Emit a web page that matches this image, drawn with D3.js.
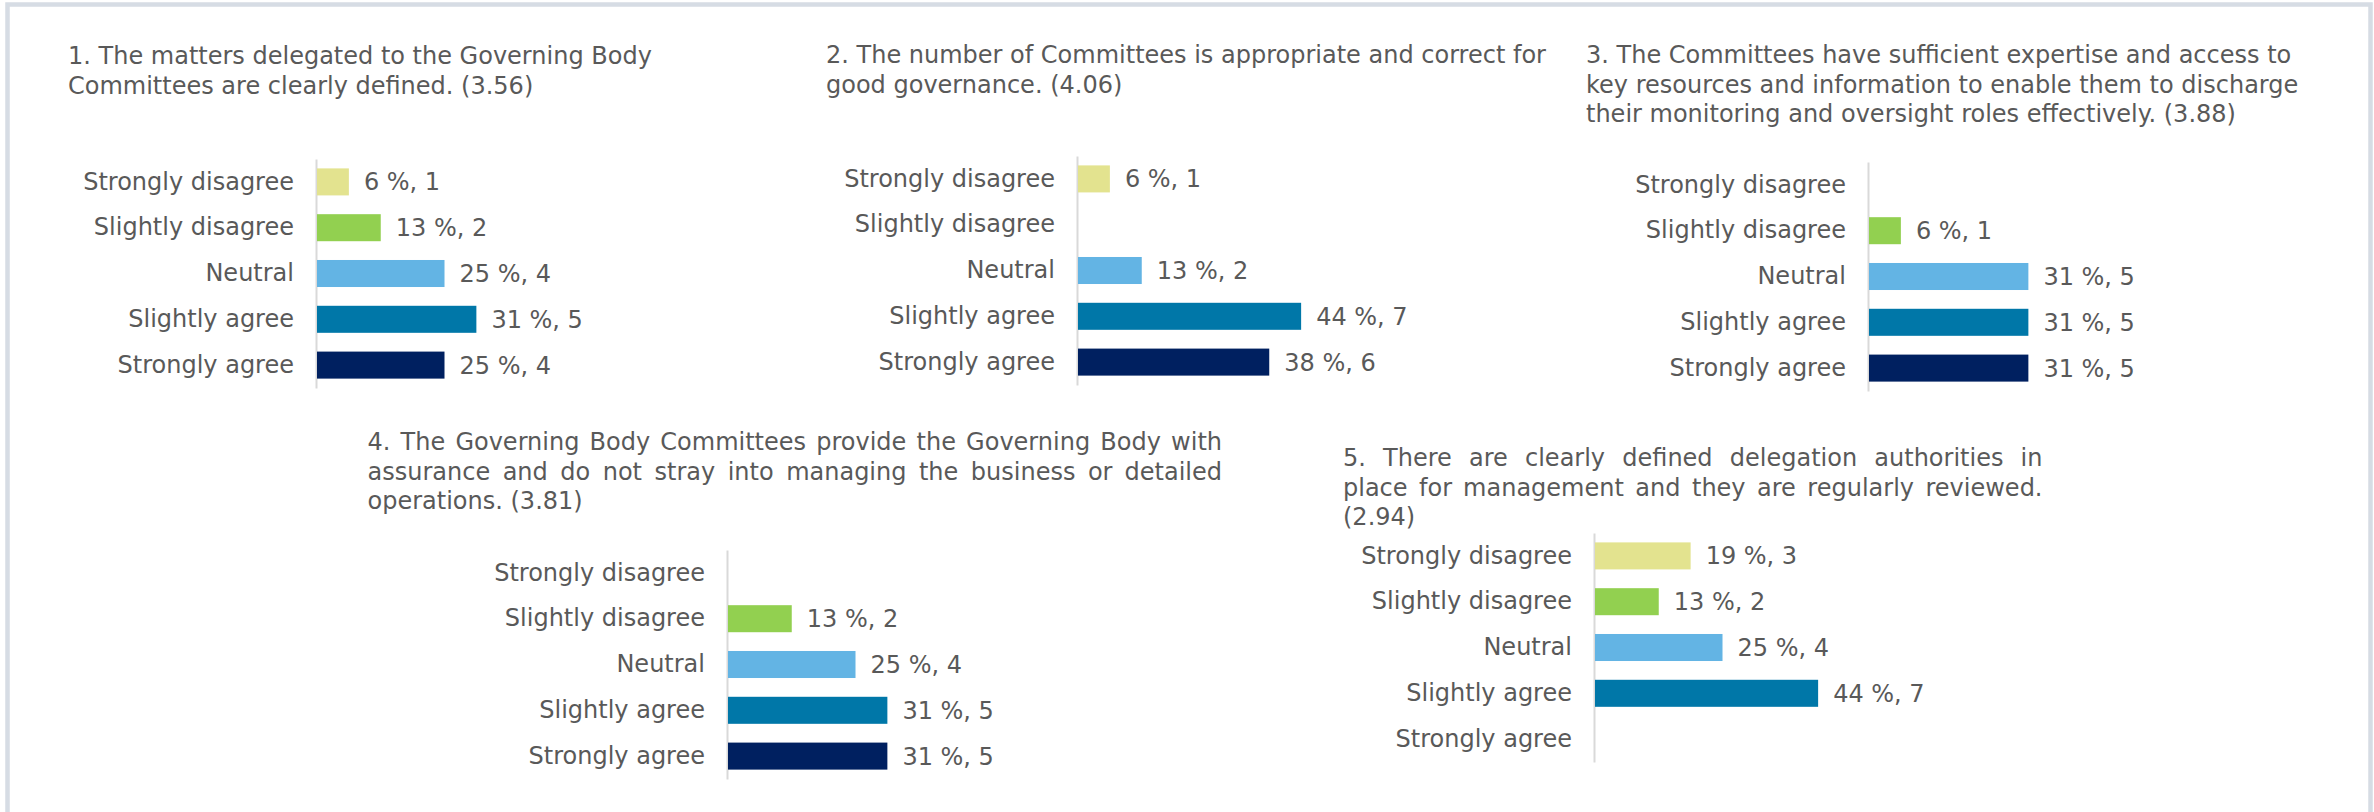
<!DOCTYPE html>
<html>
<head>
<meta charset="utf-8">
<script src="https://cdn.jsdelivr.net/npm/d3@7"></script>
<style>
  body { margin: 0; background: #fff; }
  svg { display: block; font-family: "DejaVu Sans", Verdana, sans-serif; }
</style>
</head>
<body>
<svg id="chart"></svg>
<script>
// Answer categories (top to bottom in every panel).
const categories = ['Strongly disagree', 'Slightly disagree', 'Neutral', 'Slightly agree', 'Strongly agree'];

// Bar colours, one per category.
const colors = ['#E3E38F', '#92D050', '#63B4E4', '#0077A8', '#002060'];

// Question titles, already broken into lines as in the picture.
const titles = [
    ['1. The matters delegated to the Governing Body', 'Committees are clearly defined. (3.56)'],
    ['2. The number of Committees is appropriate and correct for', 'good governance. (4.06)'],
    ['3. The Committees have sufficient expertise and access to', 'key resources and information to enable them to discharge', 'their monitoring and oversight roles effectively. (3.88)'],
    ['4. The Governing Body Committees provide the Governing Body with', 'assurance and do not stray into managing the business or detailed', 'operations. (3.81)'],
    ['5. There are clearly defined delegation authorities in', 'place for management and they are regularly reviewed.', '(2.94)']
];

// Percent of answers per category (null = no answers).
const pcts = [
    [6, 13, 25, 31, 25],
    [6, null, 13, 44, 38],
    [null, 6, 31, 31, 31],
    [null, 13, 25, 31, 31],
    [19, 13, 25, 44, null]
];

// Number of answers per category.
const counts = [
    [1, 2, 4, 5, 4],
    [1, 0, 2, 7, 6],
    [0, 1, 5, 5, 5],
    [0, 2, 4, 5, 5],
    [3, 2, 4, 7, 0]
];

const width = 2374;
const height = 812;
const fontSize = 24;
const lineHeight = 29.5;
const textColor = '#595959';

// Layout of each panel: title origin, axis position, justified width of title.
const panels = [
    {tx: 68,   ty: 56,  ax: 316,  ay: 159, justify: 0},
    {tx: 826,  ty: 55,  ax: 1077, ay: 156, justify: 0},
    {tx: 1586, ty: 55,  ax: 1868, ay: 162, justify: 0},
    {tx: 367.5, ty: 442, ax: 727, ay: 550, justify: 854.5},
    {tx: 1343, ty: 458, ax: 1594, ay: 533, justify: 699.5}
];

const svg = d3.select('#chart')
    .attr('width', width)
    .attr('height', height);

// Frame round the whole picture (open at the bottom).
svg.append('path')
    .attr('d', `M7.5,${height + 10} V4.5 H2370.5 V${height + 10}`)
    .attr('fill', 'none')
    .attr('stroke', '#D6DCE4')
    .attr('stroke-width', 4.5);

// Bar length scale (answers), same for all panels.
const x = d3.scaleLinear().domain([0, 8]).range([0, 255]);

panels.forEach((p, i) => {
    const g = svg.append('g');

    // Title.
    titles[i].forEach((line, j) => {
        const ly = p.ty + j * lineHeight;
        const last = j === titles[i].length - 1;
        const t = g.append('text')
            .attr('y', ly)
            .attr('dy', '0.35em')
            .attr('font-size', fontSize)
            .attr('fill', textColor);
        if (p.justify && !last) {
            // Spread the words over the full width.
            const words = line.split(' ');
            const spans = words.map(w => t.append('tspan').text(w));
            const widths = spans.map(s => s.node().getComputedTextLength());
            const gap = (p.justify - d3.sum(widths)) / (words.length - 1);
            let cx = p.tx;
            spans.forEach((s, k) => {
                s.attr('x', cx);
                cx += widths[k] + gap;
            });
        } else {
            t.attr('x', p.tx).text(line);
        }
    });

    // Category scale.
    const y = d3.scaleBand()
        .domain(categories)
        .range([p.ay, p.ay + 229])
        .paddingInner(0.41)
        .paddingOuter(0.205);

    const axis = g.append('g')
        .attr('transform', `translate(${p.ax}, 0)`)
        .call(d3.axisLeft(y).tickSize(0).tickSizeOuter(0).tickPadding(22));
    axis.select('.domain').attr('stroke', '#D9D9D9').attr('stroke-width', 2);
    axis.selectAll('text')
        .attr('font-size', fontSize)
        .attr('font-family', '"DejaVu Sans", Verdana, sans-serif')
        .attr('fill', textColor);

    const rows = categories.map((c, k) => ({cat: c, color: colors[k], pct: pcts[i][k], n: counts[i][k]}))
        .filter(d => d.n > 0);

    // Bars.
    g.selectAll('rect.bar').data(rows).enter().append('rect')
        .attr('class', 'bar')
        .attr('x', p.ax + 1)
        .attr('y', d => y(d.cat))
        .attr('width', d => x(d.n))
        .attr('height', y.bandwidth())
        .attr('fill', d => d.color);

    // Value labels.
    g.selectAll('text.val').data(rows).enter().append('text')
        .attr('class', 'val')
        .attr('x', d => p.ax + 1 + x(d.n) + 15)
        .attr('y', d => y(d.cat) + y.bandwidth() / 2)
        .attr('dy', '0.35em')
        .attr('font-size', fontSize)
        .attr('fill', textColor)
        .text(d => `${d.pct} %, ${d.n}`);
});
</script>
</body>
</html>
